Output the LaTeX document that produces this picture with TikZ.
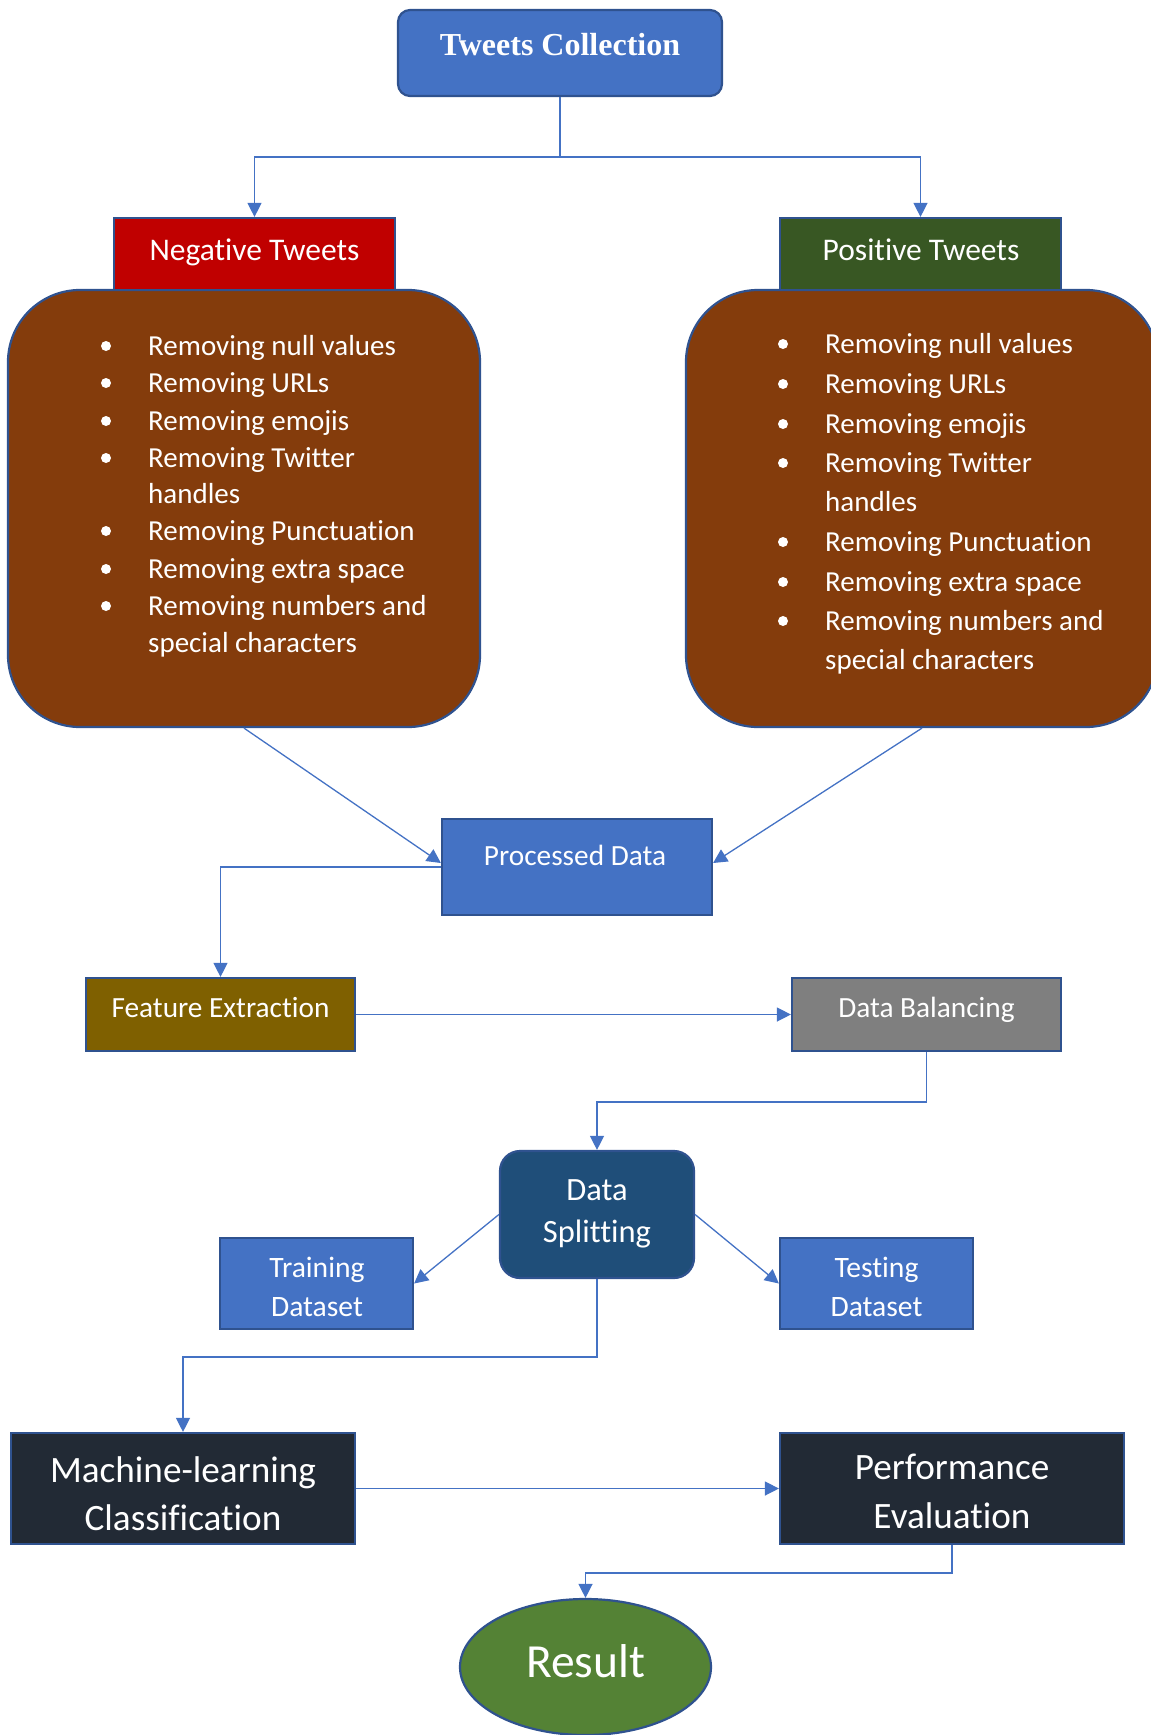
\documentclass[tikz,border=0pt]{standalone}
\usepackage{fontspec}
\setmainfont{Carlito}[Ligatures={NoCommon,NoContextual}, RawFeature={-clig;-dlig}]
\newfontfamily\tcfont{Liberation Serif}
\usetikzlibrary{arrows.meta,shapes.geometric}
\definecolor{cblue}{HTML}{4472C4}
\definecolor{cborder}{HTML}{2F528F}
\definecolor{cbrown}{HTML}{843C0C}
\definecolor{cred}{HTML}{C00000}
\definecolor{cgreenh}{HTML}{385723}
\definecolor{cgold}{HTML}{7F6000}
\definecolor{cgray}{HTML}{7F7F7F}
\definecolor{cnavy}{HTML}{1F4E79}
\definecolor{cdark}{HTML}{222A35}
\definecolor{cres}{HTML}{548235}
\begin{document}
\begin{tikzpicture}[x=1pt,y=-1pt,
  box/.style={draw=cborder, line width=2.2pt, inner sep=0pt, rectangle},
  conn/.style={draw=cblue, line width=1.3pt},
  arr/.style={conn, -{Triangle[length=14pt,width=14pt]}},
  txt/.style={text=white, inner sep=0pt, anchor=base},
  f29/.style={font=\fontsize{29.3}{35}\selectfont},
  f31/.style={font=\fontsize{31.5}{38}\selectfont},
]
\useasboundingbox (0,0) rectangle (1151,1735);
\clip (0,0) rectangle (1151,1735);

% Top node
\node[box, fill=cblue, rounded corners=12pt, minimum width=324pt, minimum height=86pt] (tc) at (560,53) {};
\node[txt, font=\tcfont\bfseries\fontsize{32}{38}\selectfont] (tct) at (560,55) {Tweets Collection};

% Brown list boxes
\node[box, fill=cbrown, rounded corners=72pt, minimum width=472pt, minimum height=437pt] (bl) at (244,508.5) {};
\node[box, fill=cbrown, rounded corners=72pt, minimum width=472pt, minimum height=437pt] (brr) at (922,508.5) {};

% Headers
\node[box, fill=cred, minimum width=281pt, minimum height=72pt] (neg) at (254.5,254) {};
\node[txt, f31] (negt) at (254.5,260) {Negative Tweets};
\node[box, fill=cgreenh, minimum width=281pt, minimum height=72pt] (pos) at (920.5,254) {};
\node[txt, f31] (post) at (921,260) {Positive Tweets};

% Lists
\foreach \ly/\ltext/\lbul [count=\i] in {355/Removing null values/1, 392/Removing URLs/1, 430/Removing emojis/1, 467/Removing Twitter/1, 503/handles/0, 540/Removing Punctuation/1, 578/Removing extra space/1, 615/Removing numbers and/1, 652/special characters/0}{
  \node[txt, anchor=base west, font=\fontsize{29}{35}\selectfont] (ll\i) at (148,\ly) {\ltext};
  \ifnum\lbul=1 \fill[white] (106,\ly-9) circle (5pt);\fi
}
\foreach \ly/\ltext/\lbul [count=\i] in {353/Removing null values/1, 393/Removing URLs/1, 433/Removing emojis/1, 472/Removing Twitter/1, 511/handles/0, 551/Removing Punctuation/1, 591/Removing extra space/1, 630/Removing numbers and/1, 669/special characters/0}{
  \node[txt, anchor=base west, font=\fontsize{29}{35}\selectfont] (rl\i) at (825,\ly) {\ltext};
  \ifnum\lbul=1 \fill[white] (783,\ly-9) circle (5pt);\fi
}

% Processed data
\node[box, fill=cblue, minimum width=270pt, minimum height=96pt] (proc) at (577,867) {};
\node[txt, f29] (proct) at (575,865.5) {Processed Data};

% Feature extraction / balancing
\node[box, fill=cgold, minimum width=269pt, minimum height=73pt] (fe) at (220.5,1014.5) {};
\node[txt, f29] (fet) at (220.5,1017.5) {Feature Extraction};
\node[box, fill=cgray, minimum width=269pt, minimum height=73pt] (db) at (926.5,1014.5) {};
\node[txt, f29] (dbt) at (926.5,1017.5) {Data Balancing};

% Data splitting
\node[box, fill=cnavy, rounded corners=20pt, minimum width=194pt, minimum height=127pt] (ds) at (597,1214.5) {};
\node[txt, font=\fontsize{32.5}{40}\selectfont] (dst1) at (597,1200) {Data};
\node[txt, font=\fontsize{32.5}{40}\selectfont] (dst2) at (597,1242) {Splitting};

% Training / Testing
\node[box, fill=cblue, minimum width=193pt, minimum height=91pt] (tr) at (316.5,1283.5) {};
\node[txt, font=\fontsize{29.6}{36}\selectfont] (trt1) at (317,1277) {Training};
\node[txt, font=\fontsize{29.6}{36}\selectfont] (trt2) at (317,1316) {Dataset};
\node[box, fill=cblue, minimum width=193pt, minimum height=91pt] (te) at (876.5,1283.5) {};
\node[txt, font=\fontsize{29.6}{36}\selectfont] (tet1) at (876.5,1277) {Testing};
\node[txt, font=\fontsize{29.6}{36}\selectfont] (tet2) at (876.5,1316) {Dataset};

% ML / Performance
\node[box, fill=cdark, minimum width=344pt, minimum height=111pt] (ml) at (183,1488.5) {};
\node[txt, font=\fontsize{37.2}{44}\selectfont] (mlt1) at (183,1482) {Machine-learning};
\node[txt, font=\fontsize{37.2}{44}\selectfont] (mlt2) at (183,1530) {Classification};
\node[box, fill=cdark, minimum width=344pt, minimum height=111pt] (pf) at (952,1488.5) {};
\node[txt, font=\fontsize{37.2}{44}\selectfont] (pft1) at (952,1479.5) {Performance};
\node[txt, font=\fontsize{37.2}{44}\selectfont] (pft2) at (952,1528) {Evaluation};

% Result
\node[ellipse, draw=cborder, line width=2.2pt, fill=cres, minimum width=251pt, minimum height=136pt, inner sep=0pt] (res) at (585.5,1667) {};
\node[txt, font=\fontsize{47.5}{56}\selectfont] (rest) at (585.5,1677) {Result};

% Connectors
\coordinate (br) at (560,157);
\draw[conn] (tc.south) -- (br);
\draw[arr] (br) -| (neg.north);
\draw[arr] (br) -| (pos.north);
\draw[arr] (bl.south) -- ([yshift=4pt]proc.west);
\draw[arr] (brr.south) -- ([yshift=4pt]proc.east);
\draw[arr] (proc.west) -| (fe.north);
\draw[arr] (fe.east) -- (db.west);
\draw[arr] (db.south) -- ++(0,50) -| (ds.north);
\draw[arr] (ds.west) -- (tr.east);
\draw[arr] (ds.east) -- (te.west);
\draw[arr] (ds.south) -- ++(0,78) -| (ml.north);
\draw[arr] (ml.east) -- (pf.west);
\draw[arr] (pf.south) -- ++(0,28) -| (res.north);
\end{tikzpicture}
\end{document}
